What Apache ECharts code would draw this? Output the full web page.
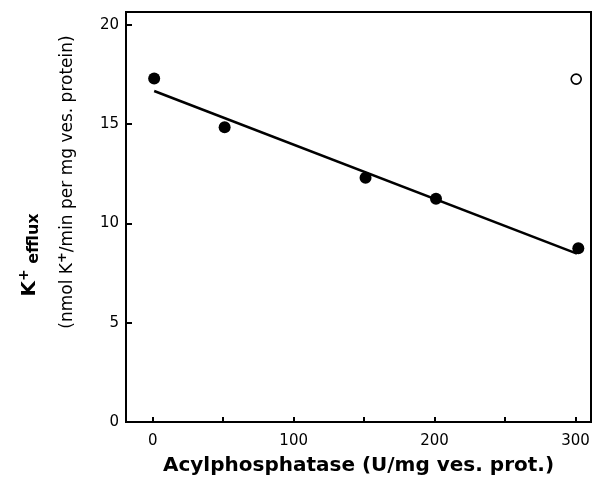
<!DOCTYPE html>
<html>
<head>
<meta charset="utf-8">
<script src="https://cdn.jsdelivr.net/npm/echarts@6/dist/echarts.min.js"></script>
<style>html,body{margin:0;padding:0;background:#fff}#c{width:598px;height:484px}</style>
</head>
<body>
<div id="c"></div>
<script>
// Data
var xTicks = [0, 50, 100, 150, 200, 250, 300];
var xLabels = [0, 100, 200, 300];
var yTicks = [0, 5, 10, 15, 20];
var filledX = [1, 51, 151, 201, 302];
var filledY = [17.3, 14.85, 12.3, 11.25, 8.75];
var openX = [300.5];
var openY = [17.27];
var fitX = [1, 301];
var fitY = [16.67, 8.48];

function pairs(xs, ys) { return xs.map(function (x, i) { return [x, ys[i]]; }); }

var chart = echarts.init(document.getElementById('c'), null, { renderer: 'canvas' });
var font = 'DejaVu Sans';
chart.setOption({
  animation: false,
  backgroundColor: '#fff',
  grid: { left: 126, right: 7, top: 12, bottom: 62, show: true, borderColor: '#000', borderWidth: 2, backgroundColor: 'transparent' },
  xAxis: {
    type: 'value', min: -19, max: 311,
    name: 'Acylphosphatase (U/mg ves. prot.)',
    nameLocation: 'middle', nameGap: 34,
    nameTextStyle: { fontFamily: font, fontSize: 20, fontWeight: 'bold', color: '#000' },
    axisLine: { show: true, onZero: false, lineStyle: { color: '#000', width: 2 } },
    axisTick: { show: true, inside: true, length: 5, customValues: xTicks, lineStyle: { color: '#000', width: 2 } },
    axisLabel: { customValues: xLabels, margin: 12, fontFamily: font, fontSize: 15, color: '#000' },
    splitLine: { show: false }
  },
  yAxis: {
    type: 'value', min: 0, max: 20.65,
    axisLine: { show: true, onZero: false, lineStyle: { color: '#000', width: 2 } },
    axisTick: { show: true, inside: true, length: 6, customValues: yTicks, lineStyle: { color: '#000', width: 2 } },
    axisLabel: { customValues: yTicks, margin: 7, fontFamily: font, fontSize: 15, color: '#000' },
    splitLine: { show: false }
  },
  graphic: [
    {
      type: 'text', x: 30, y: 255, rotation: Math.PI / 2,
      style: {
        text: '{k|K}{sup|+}{sub| efflux}', x: 0, y: 0, align: 'center', verticalAlign: 'middle',
        fill: '#000',
        rich: {
          k: { fontFamily: font, fontSize: 20, fontWeight: 'bold', fill: '#000' },
          sup: { fontFamily: font, fontSize: 14, fontWeight: 'bold', fill: '#000', padding: [0, 0, 12, 0] },
          sub: { fontFamily: font, fontSize: 16, fontWeight: 'bold', fill: '#000', padding: [8, 0, 0, 0] }
        }
      }
    },
    {
      type: 'text', x: 68, y: 182, rotation: Math.PI / 2,
      style: {
        text: '{t|(nmol K}{sup|+}{t|/min per mg ves. protein)}', x: 0, y: 0, align: 'center', verticalAlign: 'middle',
        fill: '#000',
        rich: {
          t: { fontFamily: font, fontSize: 17, fill: '#000' },
          sup: { fontFamily: font, fontSize: 13, fontWeight: 'bold', fill: '#000', padding: [0, 0, 10, 0] }
        }
      }
    }
  ],
  series: [
    {
      type: 'line', data: pairs(fitX, fitY), symbol: 'none',
      lineStyle: { color: '#000', width: 2.5 }, z: 2
    },
    {
      type: 'scatter', data: pairs(filledX, filledY), symbol: 'circle', symbolSize: 12,
      itemStyle: { color: '#000', opacity: 1 }, z: 3
    },
    {
      type: 'scatter', data: pairs(openX, openY), symbol: 'circle', symbolSize: 10,
      itemStyle: { color: '#fff', borderColor: '#000', borderWidth: 1.6, opacity: 1 }, z: 3
    }
  ]
});
</script>
</body>
</html>
